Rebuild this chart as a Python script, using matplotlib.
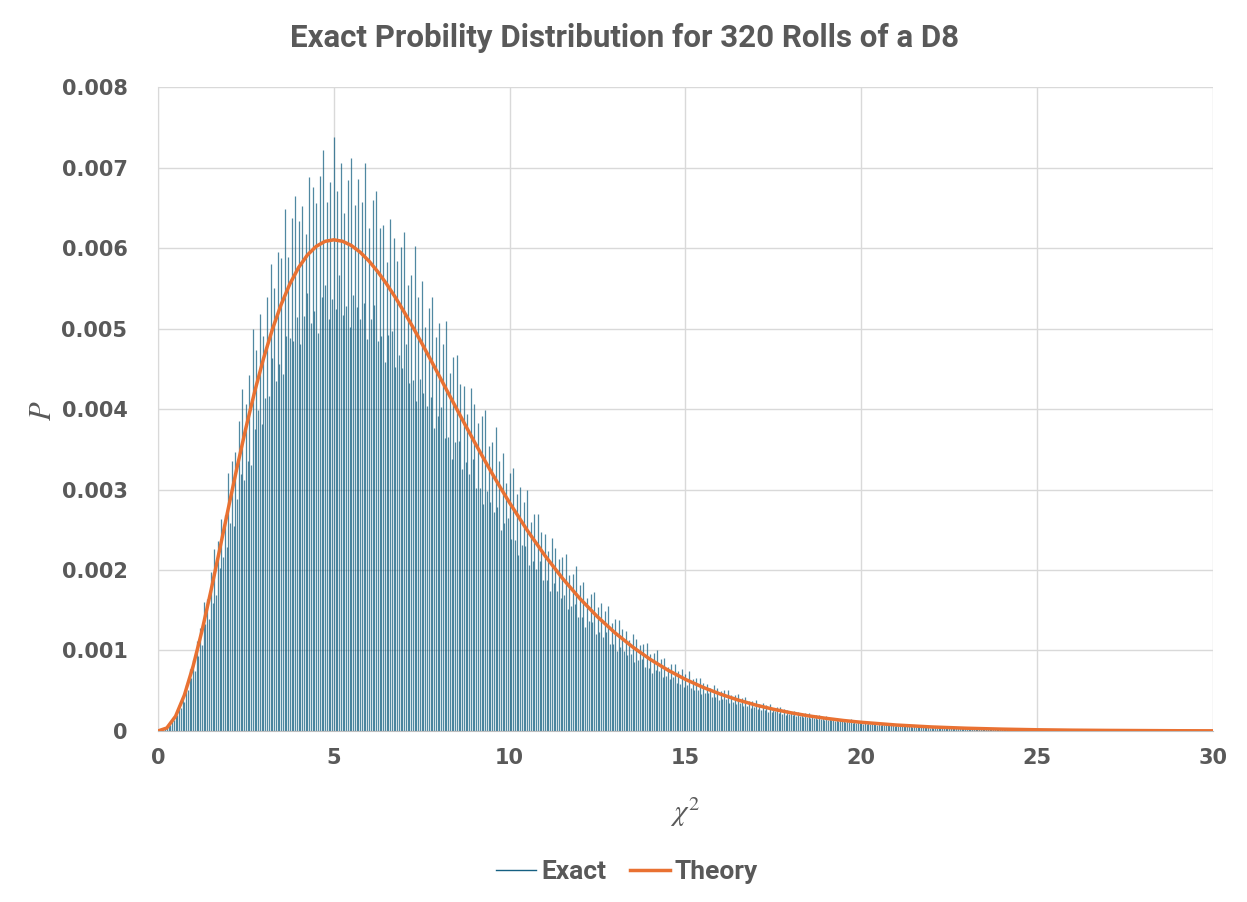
import numpy as np
import matplotlib.pyplot as plt
from matplotlib.lines import Line2D
from matplotlib.ticker import FuncFormatter, MultipleLocator


BLUE = '#156082'
ORANGE = '#E97132'
TEXT_COLOR = '#595959'
GRID_COLOR = '#d9d9d9'
NARROW_FONT = ['Liberation Sans Narrow', 'Roboto', 'DejaVu Sans']
TICK_FONT = ['DejaVu Sans']

TITLE = 'Exact Probility Distribution for 320 Rolls of a D8'

# chi-square values of the exact distribution sit on a 0.05 lattice
CHI2_STEP = 0.05

# exact probabilities, in millionths, for chi2 = 0, 0.05, 0.10, ... 25
EXACT_PPM = [
    0, 1, 5, 10, 24, 31, 63, 71, 133, 132,
    201, 193, 319, 284, 407, 365, 576, 515, 768, 662,
    880, 748, 1122, 935, 1279, 1069, 1607, 1335, 1641, 1387,
    1973, 1595, 2265, 1692, 2356, 2021, 2632, 2160, 2686, 2290,
    3210, 2583, 3358, 2552, 3463, 2886, 3849, 3195, 4249, 3118,
    4066, 3354, 4420, 3310, 4994, 3753, 4729, 3987, 5177, 3817,
    4904, 4134, 5390, 4164, 5799, 4637, 5502, 4344, 5948, 4554,
    5879, 4439, 6479, 4906, 5887, 4888, 6378, 4847, 6642, 5146,
    6335, 4806, 6520, 5150, 6177, 5441, 6885, 5063, 6755, 5220,
    6563, 4947, 6892, 5392, 7224, 5536, 6574, 5116, 6825, 5366,
    7383, 5244, 6705, 5665, 7062, 5171, 6437, 5275, 6839, 5015,
    7117, 5413, 6538, 5263, 6860, 5115, 6578, 5314, 7058, 4864,
    6247, 5115, 6595, 5298, 6706, 4850, 6244, 4911, 6289, 4579,
    5832, 4914, 6365, 4963, 6125, 4525, 5833, 4677, 6017, 4508,
    6195, 4806, 5540, 4328, 5660, 4364, 6021, 4098, 5387, 4372,
    5589, 4204, 5021, 4039, 5261, 4154, 5397, 3762, 4895, 3916,
    5070, 4019, 4802, 3642, 5092, 3656, 4452, 3378, 4649, 3593,
    4675, 3599, 4305, 3253, 4292, 3336, 3939, 3191, 4257, 3376,
    4057, 3018, 3827, 3021, 3912, 2816, 3991, 2984, 3539, 2850,
    3584, 2720, 3782, 2779, 3356, 2502, 3454, 2589, 3080, 2640,
    3202, 2380, 3264, 2377, 2941, 2184, 3025, 2310, 2843, 2300,
    2992, 2068, 2601, 2112, 2700, 2010, 2698, 2116, 2468, 1880,
    2443, 1873, 2230, 1740, 2399, 1836, 2272, 1745, 2131, 1656,
    2164, 1686, 2198, 1512, 1940, 1558, 1956, 1582, 2051, 1419,
    1808, 1410, 1855, 1292, 1647, 1363, 1704, 1352, 1726, 1210,
    1546, 1230, 1585, 1168, 1485, 1226, 1558, 1086, 1346, 1077,
    1389, 996, 1384, 1049, 1263, 994, 1247, 942, 1132, 954,
    1210, 853, 1144, 877, 1069, 889, 1084, 795, 1095, 786,
    960, 718, 965, 756, 1012, 748, 890, 669, 907, 677,
    801, 640, 828, 671, 838, 593, 749, 587, 764, 541,
    712, 568, 745, 538, 643, 508, 663, 515, 658, 458,
    596, 470, 588, 476, 533, 425, 570, 420, 536, 382,
    498, 401, 504, 396, 509, 353, 446, 357, 447, 336,
    465, 352, 409, 310, 416, 307, 368, 283, 377, 295,
    380, 279, 340, 263, 346, 266, 323, 237, 336, 242,
    289, 245, 298, 218, 296, 216, 268, 196, 263, 205,
    237, 202, 253, 181, 238, 182, 221, 171, 223, 179,
    224, 157, 197, 156, 197, 144, 204, 149, 179, 141,
    182, 132, 161, 134, 165, 120, 166, 121, 148, 122,
    150, 109, 140, 107, 145, 98, 125, 102, 128, 100,
    126, 89, 114, 91, 113, 85, 103, 89, 109, 79,
    103, 77, 95, 71, 96, 74, 96, 70, 83, 65,
    83, 66, 87, 58, 76, 60, 78, 61, 68, 54,
    70, 53, 71, 48, 62, 50, 63, 49, 58, 43,
    60, 43, 51, 41, 54, 43, 53, 37, 48, 37,
    47, 34, 42, 36, 45, 33, 42, 31, 39, 32,
    39, 27, 39, 28, 35, 29, 35, 26, 36, 25,
    32, 23, 31, 24, 28, 24, 28, 21, 28, 21,
    25, 20, 25, 20, 24, 18, 25, 17, 21, 17,
    22, 17, 21, 16, 20, 15, 19, 14, 17, 13, 17,
]

# theory curve
THEORY_CHI2 = [
    0, 0.25, 0.5, 0.75, 1, 1.25, 1.5, 1.75, 2, 2.25, 2.5, 2.75, 3, 3.25, 3.5, 3.75,
    4, 4.25, 4.5, 4.75, 5, 5.25, 5.5, 5.75, 6, 6.25, 6.5, 6.75, 7, 7.25, 7.5, 7.75,
    8, 8.25, 8.5, 8.75, 9, 9.25, 9.5, 9.75, 10, 10.5, 11, 11.5, 12, 12.5, 13, 13.5,
    14, 14.5, 15, 15.5, 16, 16.5, 17, 17.5, 18, 18.5, 19, 19.5, 20, 21, 22, 23,
    24, 25, 26, 27, 28, 29, 30,
]
THEORY_PPM = [
    0, 37, 183, 445, 807, 1243, 1731, 2246, 2767, 3279, 3765, 4217, 4626, 4986, 5296, 5554,
    5759, 5914, 6021, 6083, 6102, 6084, 6031, 5948, 5838, 5706, 5554, 5387, 5206, 5016, 4818, 4615,
    4409, 4202, 3996, 3791, 3590, 3393, 3200, 3014, 2834, 2493, 2181, 1898, 1644, 1418, 1218, 1043,
    889, 756, 641, 542, 457, 384, 322, 270, 226, 188, 157, 130, 108, 74, 50, 34,
    23, 15, 10, 7, 5, 3, 2,
]

X_TICKS = [0, 5, 10, 15, 20, 25, 30]
Y_MAX = 0.008


def main():
    plt.rcParams['mathtext.fontset'] = 'stix'
    fig = plt.figure(figsize=(12.47, 9.02), dpi=100)
    ax = fig.add_axes([0.1267, 0.1896, 0.8460, 0.7139])

    exact_x = np.arange(len(EXACT_PPM)) * CHI2_STEP
    exact_p = np.array(EXACT_PPM) * 1e-6
    ax.vlines(exact_x, 0, exact_p, color=BLUE, linewidth=0.9, alpha=0.75, zorder=2)
    ax.plot(THEORY_CHI2, np.array(THEORY_PPM) * 1e-6, color=ORANGE, linewidth=2.5,
            solid_joinstyle='round', zorder=3)

    ax.set_xlim(0, 30)
    ax.set_ylim(0, Y_MAX)
    ax.set_xticks(X_TICKS)
    ax.yaxis.set_major_locator(MultipleLocator(0.001))
    ax.yaxis.set_major_formatter(FuncFormatter(lambda v, _: '0' if abs(v) < 1e-9 else f'{v:.3f}'))
    ax.grid(color=GRID_COLOR, linewidth=1)
    ax.set_axisbelow(True)
    for side in ('top', 'right'):
        ax.spines[side].set_visible(False)
    ax.spines['left'].set_color(GRID_COLOR)
    ax.spines['bottom'].set_color('#bfbfbf')
    ax.tick_params(length=0, labelsize=15, labelcolor=TEXT_COLOR)
    ax.tick_params(axis='y', pad=22)
    ax.tick_params(axis='x', pad=12)
    for label in ax.get_xticklabels() + ax.get_yticklabels():
        label.set_fontweight('bold')
        label.set_family(TICK_FONT)

    fig.text(0.501, 0.958, TITLE, ha='center', va='center', fontsize=22.5, fontweight='bold',
             color=TEXT_COLOR, family=NARROW_FONT)
    fig.text(0.034, 0.545, r'$P$', ha='center', va='center', rotation=90, fontsize=22,
             color=TEXT_COLOR)
    fig.text(0.549, 0.100, r'$\chi^2$', ha='center', va='center', fontsize=21, color=TEXT_COLOR)

    handles = [Line2D([], [], color=BLUE, linewidth=1.0),
               Line2D([], [], color=ORANGE, linewidth=2.5)]
    fig.legend(handles, ['Exact', 'Theory'], loc='center', bbox_to_anchor=(0.503, 0.033), ncol=2,
               frameon=False, handlelength=1.5, handletextpad=0.2, columnspacing=0.9,
               prop={'family': NARROW_FONT, 'weight': 'bold', 'size': 19},
               labelcolor=TEXT_COLOR)

    fig.savefig('out.png', dpi=100)


if __name__ == '__main__':
    main()
